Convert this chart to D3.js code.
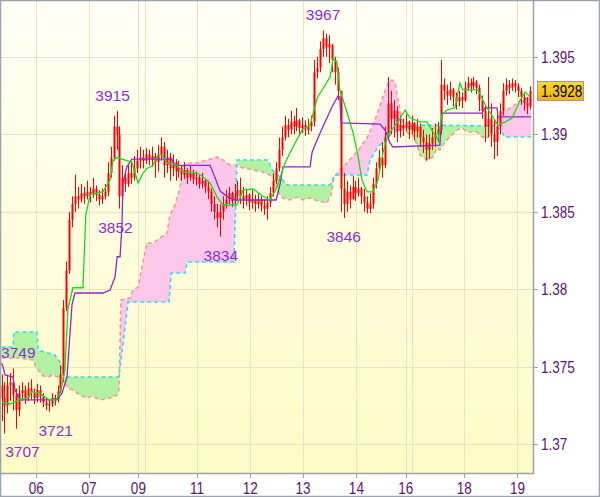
<!DOCTYPE html>
<html><head><meta charset="utf-8">
<script src="https://cdn.jsdelivr.net/npm/d3@7"></script>
<style>body{margin:0;background:#fff}svg{display:block}</style>
</head><body>
<svg id="c" width="600" height="497"></svg>
<script>
// ---------- DATA (prices in pips: 3728 => 1.3728) ----------
const firstOpen = 3738;
const closes = [
3730,3725,3738,3740,3732,3722,3733,3735,3730,3736,
3733,3730,3735,3731,3727,3725,3726,3730,3729,3734,
3745,3788,3812,3845,3855,3860,3858,3862,3860,3863,
3861,3865,3861,3858,3860,3863,3875,3885,3905,3900,
3860,3872,3868,3875,3872,3878,3883,3885,3883,3887,
3884,3886,3882,3887,3892,3880,3885,3878,3882,3876,
3878,3874,3877,3872,3875,3871,3872,3868,3870,3866,
3863,3855,3850,3846,3850,3855,3858,3862,3857,3860,
3864,3860,3858,3861,3856,3858,3855,3858,3854,3852,
3856,3862,3870,3878,3890,3898,3906,3903,3908,3905,
3909,3904,3906,3903,3905,3908,3940,3943,3955,3962,
3956,3958,3948,3940,3928,3865,3855,3863,3858,3866,
3862,3865,3860,3856,3852,3855,3868,3878,3885,3880,
3898,3920,3910,3915,3902,3906,3904,3908,3903,3907,
3902,3905,3898,3895,3890,3894,3898,3900,3903,3932,
3928,3925,3929,3924,3921,3924,3922,3930,3933,3931,
3934,3930,3922,3915,3905,3910,3900,3895,3905,3915,
3928,3932,3930,3933,3931,3928,3924,3920,3918,3928];
const highs = [
3745,3740,3745,3746,3749,3736,3738,3740,3738,3740,
3742,3736,3739,3738,3733,3730,3729,3733,3732,3738,
3751,3793,3818,3850,3860,3874,3866,3868,3866,3870,
3866,3872,3867,3864,3865,3868,3882,3892,3912,3915,
3905,3880,3876,3880,3882,3886,3890,3892,3890,3891,
3890,3892,3888,3893,3898,3895,3890,3888,3887,3884,
3883,3880,3882,3878,3880,3877,3876,3874,3875,3871,
3870,3865,3860,3855,3855,3860,3864,3866,3863,3868,
3870,3872,3866,3865,3862,3864,3861,3862,3860,3858,
3860,3866,3875,3882,3898,3905,3912,3910,3915,3912,
3917,3910,3911,3909,3910,3912,3948,3950,3960,3967,
3965,3964,3958,3950,3943,3928,3875,3870,3867,3873,
3870,3872,3866,3865,3860,3862,3872,3882,3890,3895,
3905,3937,3928,3922,3918,3912,3910,3913,3909,3912,
3908,3910,3907,3903,3900,3900,3904,3907,3908,3948,
3936,3932,3934,3930,3927,3928,3927,3934,3937,3936,
3937,3935,3932,3925,3918,3937,3920,3910,3912,3920,
3933,3936,3935,3936,3935,3933,3930,3926,3924,3931];
const lows = [
3715,3707,3720,3728,3722,3710,3718,3728,3726,3728,
3729,3726,3727,3727,3724,3722,3721,3724,3725,3727,
3733,3740,3786,3810,3840,3850,3852,3856,3855,3858,
3856,3859,3857,3854,3855,3858,3860,3872,3883,3890,
3852,3860,3863,3866,3868,3870,3875,3878,3878,3881,
3880,3879,3872,3876,3883,3872,3875,3870,3873,3870,
3872,3870,3871,3868,3870,3868,3867,3865,3865,3862,
3858,3850,3845,3840,3834,3845,3852,3855,3853,3855,
3858,3855,3852,3854,3851,3852,3850,3852,3850,3848,
3845,3853,3860,3868,3876,3886,3896,3898,3900,3900,
3902,3900,3901,3899,3900,3902,3905,3936,3940,3950,
3950,3946,3940,3932,3922,3850,3846,3850,3852,3858,
3857,3860,3855,3850,3849,3849,3852,3865,3875,3872,
3878,3896,3900,3898,3895,3898,3899,3902,3897,3900,
3896,3898,3892,3888,3883,3884,3890,3892,3895,3900,
3922,3919,3922,3918,3916,3918,3917,3921,3928,3927,
3929,3926,3915,3910,3895,3898,3892,3884,3886,3900,
3912,3925,3926,3928,3927,3924,3919,3915,3913,3916];

// indicator lines: [bar index, pips]
const tenkan = [[0.2,3727],[2.9,3726],[6.3,3729],[9,3730],[10.3,3734],[13.1,3733],[14.7,3730.5],[16.4,3728.6],[18.5,3728.6],[19.5,3732],[20.5,3738],[21.5,3748],[22.5,3787],[24.2,3801],[27.6,3801],[28.6,3848],[30,3861],[34.4,3863],[36.8,3870.5],[37.8,3883],[39.2,3885],[42.5,3883],[44.2,3882],[46.3,3868.6],[48,3875],[49.3,3878],[51.4,3880],[53.1,3886.6],[54.4,3886.6],[56.1,3881.5],[59.5,3880],[61.5,3875.7],[66.3,3875],[68.3,3872.5],[70.7,3868.6],[73.1,3859.5],[75.1,3854.4],[79.8,3854.4],[81.9,3864],[85.3,3864.7],[88.6,3860],[91,3857.6],[93.4,3866],[96.1,3881.5],[98.8,3891.8],[101.9,3902.8],[104.6,3906],[107,3923.4],[109.7,3931.8],[111.4,3937],[112.4,3949],[113.7,3946.6],[114.7,3928.6],[117.1,3914.4],[119.2,3900.8],[120.8,3886.6],[122.2,3870.5],[123.9,3862.8],[125.9,3862.8],[127.6,3870.5],[129.3,3888],[131,3899.5],[132.7,3904],[134.4,3908],[136.8,3915.7],[138.5,3910.5],[141.9,3908],[144.2,3908],[146.3,3901.5],[148,3896.3],[149.3,3912.5],[151,3915.7],[153.7,3917],[155.4,3933],[156.4,3928.6],[161.5,3928.6],[163.2,3922],[164.6,3917],[166.6,3911],[168.3,3906],[170.7,3908],[173.1,3910.5],[175.8,3922],[177.5,3927.3],[179.2,3924]];
const kijun = [[0,3752.5],[0.5,3750],[1.2,3744.7],[3.9,3743.4],[4.6,3735],[6.3,3728.6],[18.8,3728.6],[20.5,3733],[22.2,3743.4],[23.9,3790],[24.9,3797.6],[34.4,3797.6],[36.8,3799.5],[38.5,3808],[39.2,3821],[40.2,3821],[40.8,3840],[41.2,3868.6],[42.5,3879],[44.2,3884],[57.8,3884],[58.5,3880],[70.7,3880],[72.4,3872],[74.1,3863.4],[76.8,3859.5],[79.5,3857.6],[93.1,3857.6],[94.4,3867.3],[95.4,3879],[104.6,3879],[105.3,3888.6],[108,3900.8],[110.3,3910.5],[112,3917.6],[114.1,3924.7],[114.7,3924],[115.1,3907.3],[128.3,3906.6],[130,3902.8],[131.7,3894.4],[132.7,3891.8],[148.6,3893],[149.3,3913.7],[162.9,3913.7],[163.9,3917],[168,3917],[168.3,3911.2],[179.5,3911.2]];
const spanA = [[0,3762.8],[3.9,3762.8],[4.2,3772.5],[12,3772.5],[12.4,3760.8],[18.1,3757.6],[19.8,3753],[21.2,3743.4],[39.8,3743.4],[42.9,3791.8],[56.8,3791.8],[57.5,3810.5],[62.2,3810.5],[62.9,3817.6],[78.8,3817.6],[79.8,3883.4],[90.3,3883.4],[91.7,3877],[94.4,3872.5],[96.8,3867.3],[111.4,3867.3],[113.1,3873.7],[123.9,3873.7],[124.9,3883.4],[127.6,3891.8],[130,3896.3],[132.4,3900.8],[135.1,3902.8],[139.5,3906],[168,3905.4],[170.7,3898.3],[179.5,3898.3]];
const spanB = [[0,3755.7],[5.6,3755.7],[10.7,3754.4],[11.7,3749.9],[13.7,3744.7],[15.4,3743.4],[17.5,3744.7],[19.2,3743.4],[20.5,3742.8],[22.5,3736.3],[24.2,3735],[26.6,3731.8],[29,3729.9],[30.7,3731.2],[33.4,3728.6],[36.8,3729.9],[39.2,3731.8],[39.8,3735],[40.5,3793.1],[43.6,3794.4],[44.6,3799.5],[46.3,3801.5],[47.6,3814.4],[49.3,3829.9],[51.4,3829.9],[53.7,3833.1],[56.1,3836.3],[57.1,3847.9],[58.8,3854.4],[60.5,3865.4],[61.2,3878.9],[62.9,3881.5],[66.3,3881.5],[69.7,3883.4],[73.1,3885.4],[75.1,3883.4],[77.5,3880.2],[79.5,3880.2],[80.8,3878.9],[88.6,3875.7],[91,3873.7],[92.4,3870.5],[93.7,3862.8],[95.4,3858.9],[97.8,3857.6],[100.2,3859.5],[102.2,3857.6],[104.6,3858.9],[107.3,3857],[110.3,3855.7],[111.7,3860.8],[112.7,3872.5],[115.8,3878.9],[120.5,3888.6],[123.9,3897.6],[126.6,3909.2],[129.3,3924.1],[131,3933.1],[132.4,3935],[133.4,3933.7],[134.1,3925.4],[135.1,3915.7],[136.1,3904.1],[137.8,3900.8],[139.5,3899.5],[140.9,3893.1],[141.9,3886.6],[144.2,3883.4],[146.3,3885.4],[147.6,3891.2],[148.6,3889.9],[150.3,3895],[152,3898.3],[154.4,3902.8],[156.1,3904.1],[157.8,3901.5],[161.2,3901.5],[162.9,3898.3],[164.6,3897.6],[165.6,3900.2],[166.6,3904.7],[168,3907.9],[169.7,3913.7],[171.4,3915.7],[173.4,3918.3],[175.8,3921.5],[178.1,3922.8],[179.5,3924.1]];

const dayTicks = [11.8,29.7,46.4,66.3,84.3,102.2,120.3,137.0,156.9,174.9];
const dayLabels = ["06","07","09","11","12","13","14","16","18","19"];
const sessionLines = [48.5,139.0];
const priceTicks = [1.37,1.375,1.38,1.385,1.39,1.395];
const priceTickLabels = ["1.37","1.375","1.38","1.385","1.39","1.395"];
const lastPrice = 1.3928;
const extremes = [
  {i:1,  v:3707, kind:"low"},
  {i:4,  v:3749, kind:"high"},
  {i:16, v:3721, kind:"low"},
  {i:39, v:3915, kind:"high"},
  {i:40, v:3852, kind:"low"},
  {i:74, v:3834, kind:"low"},
  {i:109,v:3967, kind:"high"},
  {i:116,v:3846, kind:"low"}];
const extremeDx = [18,5,7,-4,-4,1,0,0];

// ---------- LAYOUT / STYLE ----------
const W=600, H=497;
const plot = {l:1, t:1, r:533.5, b:473.5};
const C = {green:"#b2f2a2", pink:"#ffc8ea", spanA:"#35dcef", spanB:"#f29a9a",
  tenkan:"#19d919", kijun:"#9326c4", candle:"#ff0000", grid:"#e7e4c4",
  axisText:"#5a1870", label:"#8e2fd0", border:"#9aa4ae"};
const axisFont = "'Liberation Sans',Arial,sans-serif";
const axisSX = 0.82;
const P = p => 1 + p/10000;

const svg = d3.select("#c");
const defs = svg.append("defs");
const bg = defs.append("linearGradient").attr("id","bg").attr("x1",0).attr("y1",0).attr("x2",0).attr("y2",1);
bg.append("stop").attr("offset","0%").attr("stop-color","#fffff6");
bg.append("stop").attr("offset","100%").attr("stop-color","#fffbc6");
const tag = defs.append("linearGradient").attr("id","tag").attr("x1",0).attr("y1",0).attr("x2",0).attr("y2",1);
tag.append("stop").attr("offset","0%").attr("stop-color","#ffd83a");
tag.append("stop").attr("offset","100%").attr("stop-color","#f2b200");
defs.append("clipPath").attr("id","plotClip").append("rect")
  .attr("x",plot.l).attr("y",plot.t).attr("width",plot.r-plot.l).attr("height",plot.b-plot.t);

svg.append("rect").attr("width",W).attr("height",H).attr("fill","#fff");
svg.append("rect").attr("x",plot.l).attr("y",plot.t).attr("width",plot.r-plot.l).attr("height",plot.b-plot.t).attr("fill","url(#bg)");

const x = d3.scaleLinear().domain([0,179]).range([1.5,529.55]);
const y = d3.scaleLinear().domain([1.37,1.39]).range([444.3,134.3]);

// grid
const grid = svg.append("g").attr("stroke",C.grid).attr("stroke-width",1);
grid.selectAll(".h").data(priceTicks).join("line")
  .attr("x1",plot.l).attr("x2",plot.r).attr("y1",d=>Math.round(y(d))+0.5).attr("y2",d=>Math.round(y(d))+0.5);
grid.selectAll(".v").data(dayTicks.concat(sessionLines)).join("line")
  .attr("y1",plot.t).attr("y2",plot.b).attr("x1",d=>Math.round(x(d))+0.5).attr("x2",d=>Math.round(x(d))+0.5);

const gp = svg.append("g").attr("clip-path","url(#plotClip)");

// cloud
const areaDown = d3.area().x(d=>x(d[0])).y0(plot.b).y1(d=>y(P(d[1])));
const areaUp = d3.area().x(d=>x(d[0])).y0(plot.t).y1(d=>y(P(d[1])));
defs.append("clipPath").attr("id","aboveB").append("path").attr("d",areaUp(spanB));
defs.append("clipPath").attr("id","aboveA").append("path").attr("d",areaUp(spanA));
gp.append("path").attr("d",areaDown(spanA)).attr("fill",C.green).attr("clip-path","url(#aboveB)");
gp.append("path").attr("d",areaDown(spanB)).attr("fill",C.pink).attr("clip-path","url(#aboveA)");
const line = d3.line().x(d=>x(d[0])).y(d=>y(P(d[1])));
gp.append("path").attr("d",line(spanB)).attr("fill","none").attr("stroke",C.spanB).attr("stroke-width",1.6).attr("stroke-dasharray","4,3");
gp.append("path").attr("d",line(spanA)).attr("fill","none").attr("stroke",C.spanA).attr("stroke-width",1.6).attr("stroke-dasharray","4,3");

// candles
const bars = closes.map((c,i)=>{
  const o = i===0 ? firstOpen : closes[i-1];
  return {i, o, c, h:Math.max(highs[i],o,c), l:Math.min(lows[i],o,c)};
});
const cg = gp.append("g");
cg.selectAll("line").data(bars).join("line")
  .attr("x1",d=>Math.round(x(d.i))+0.5).attr("x2",d=>Math.round(x(d.i))+0.5)
  .attr("y1",d=>y(P(d.h))).attr("y2",d=>y(P(d.l)))
  .attr("stroke",C.candle).attr("stroke-width",1);
cg.selectAll("rect").data(bars).join("rect")
  .attr("x",d=>Math.round(x(d.i))-0.5).attr("width",2)
  .attr("y",d=>y(P(Math.max(d.o,d.c))))
  .attr("height",d=>Math.max(1, y(P(Math.min(d.o,d.c)))-y(P(Math.max(d.o,d.c)))))
  .attr("fill",C.candle);

// indicator lines
gp.append("path").attr("d",line(kijun)).attr("fill","none").attr("stroke",C.kijun).attr("stroke-width",1.3);
gp.append("path").attr("d",line(tenkan)).attr("fill","none").attr("stroke",C.tenkan).attr("stroke-width",1.3);

// extreme labels
gp.selectAll(".ext").data(extremes).join("text")
  .attr("x",(d,k)=>x(d.i)+extremeDx[k])
  .attr("y",d=>d.kind==="high" ? y(P(d.v))-10 : y(P(d.v))+24)
  .attr("text-anchor","middle").attr("font-family","'Liberation Sans',Arial,sans-serif")
  .attr("font-size",15.5).attr("fill",C.label).text(d=>d.v);

// borders
svg.append("rect").attr("x",0.5).attr("y",0.5).attr("width",W-1).attr("height",H-1).attr("fill","none").attr("stroke",C.border).attr("stroke-width",1.5);
svg.append("path").attr("d",`M${plot.r},${plot.t}V${plot.b}H${plot.l}`).attr("fill","none").attr("stroke",C.border).attr("stroke-width",1.5);

// y axis
const ya = svg.append("g");
ya.selectAll("line").data(priceTicks).join("line")
  .attr("x1",plot.r).attr("x2",plot.r+4.5).attr("y1",d=>Math.round(y(d))+0.5).attr("y2",d=>Math.round(y(d))+0.5)
  .attr("stroke",C.border).attr("stroke-width",1);
ya.selectAll("text").data(priceTicks).join("text")
  .attr("transform",d=>`translate(541,${y(d)+6}) scale(${axisSX},1)`)
  .attr("font-family",axisFont).attr("font-size",16.5)
  .attr("fill",C.axisText).text((d,k)=>priceTickLabels[k]);

// x axis
const xa = svg.append("g");
xa.selectAll("line").data(dayTicks).join("line")
  .attr("x1",d=>Math.round(x(d))+0.5).attr("x2",d=>Math.round(x(d))+0.5).attr("y1",plot.b).attr("y2",plot.b+4.5)
  .attr("stroke",C.border).attr("stroke-width",1);
xa.selectAll("text").data(dayTicks).join("text")
  .attr("transform",d=>`translate(${x(d)},493.5) scale(${axisSX},1)`)
  .attr("text-anchor","middle").attr("font-family",axisFont).attr("font-size",16.5)
  .attr("fill",C.axisText).text((d,k)=>dayLabels[k]);

// last price tag
const yl = y(lastPrice);
svg.append("rect").attr("x",537.5).attr("y",Math.round(yl)-9.5).attr("width",46).attr("height",19)
  .attr("fill","url(#tag)").attr("stroke","#9a9a9a").attr("stroke-width",1);
svg.append("text").attr("transform",`translate(541,${yl+6}) scale(${axisSX},1)`)
  .attr("font-family",axisFont).attr("font-size",16.5)
  .attr("fill","#000").text(lastPrice.toFixed(4));
</script>
</body></html>
